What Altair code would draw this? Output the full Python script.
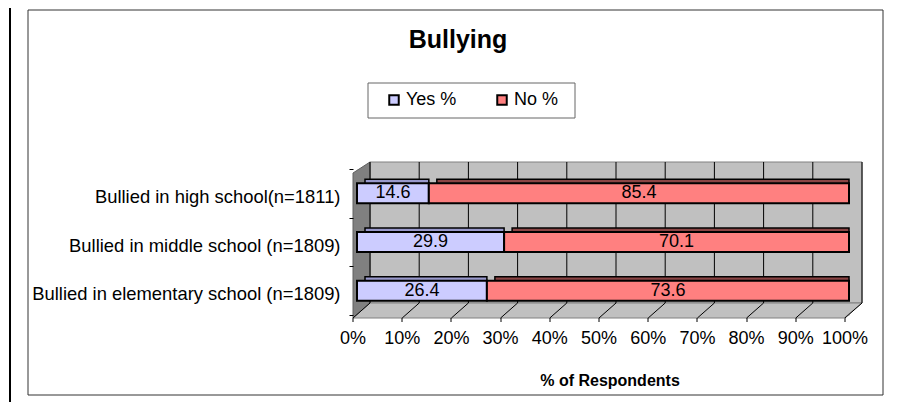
import altair as alt
import pandas as pd

# ---- data ----
categories = [
    "Bullied in high school(n=1811)",
    "Bullied in middle school (n=1809)",
    "Bullied in elementary school (n=1809)",
]
series = ["Yes %", "No %"]
yes_values = [14.6, 29.9, 26.4]
no_values = [85.4, 70.1, 73.6]
x_ticks = [0, 10, 20, 30, 40, 50, 60, 70, 80, 90, 100]

front_colors = ["#CCCCFF", "#FF8080"]
back_colors = ["#9999CC", "#8B4545"]
FONT = "Liberation Sans"

rows = []
for c, y, n in zip(categories, yes_values, no_values):
    rows.append({"category": c, "series": series[0], "order": 0, "value": y, "shade": back_colors[0]})
    rows.append({"category": c, "series": series[1], "order": 1, "value": n, "shade": back_colors[1]})
df = pd.DataFrame(rows)
ticks_df = pd.DataFrame({"tick": x_ticks})
one = pd.DataFrame({"d": [0]})

xscale = alt.Scale(domain=[0, 100], nice=False, zero=True)
yscale = alt.Scale(domain=categories, paddingInner=0, paddingOuter=0)

# ---- decorations (frame, legend box, 3D wall/floor) ----
frame = alt.Chart(one).mark_rect(fillOpacity=0, stroke="#333333", strokeWidth=1).encode(
    x=alt.value(-329), x2=alt.value(526), y=alt.value(-159), y2=alt.value(226)
)
edge = alt.Chart(one).mark_rule(color="black", strokeWidth=2).encode(
    x=alt.value(-347), y=alt.value(-169), y2=alt.value(241)
)
legend_box = alt.Chart(one).mark_rect(fillOpacity=0, stroke="#666666", strokeWidth=1).encode(
    x=alt.value(11), x2=alt.value(218), y=alt.value(-86), y2=alt.value(-51)
)
wall = alt.Chart(one).mark_rect(
    fill="#C0C0C0", stroke="#808080", strokeWidth=1, xOffset=13, x2Offset=13
).encode(
    x=alt.value(0), x2=alt.value(492),
    y=alt.value(-7), y2=alt.value(134)
)
left_wall = alt.Chart(one).mark_point(
    shape="M-4,149L13,134L13,-7L-4,4Z", size=4, filled=True,
    fill="#808080", stroke="#606060", strokeWidth=1, opacity=1
).encode(x=alt.value(0), y=alt.value(0))
floor = alt.Chart(one).mark_point(
    shape="M-4,149L487,149L505,134L13,134Z", size=4, filled=True,
    fill="#C0C0C0", stroke="#808080", strokeWidth=1, opacity=1
).encode(x=alt.value(0), y=alt.value(0))
wall_grid = alt.Chart(ticks_df).mark_rule(color="black", strokeWidth=1, xOffset=13).encode(
    x=alt.X("tick:Q", scale=xscale), y=alt.value(-7), y2=alt.value(134)
)
floor_grid = alt.Chart(ticks_df).mark_rule(
    color="black", strokeWidth=1, xOffset=13, x2Offset=-4
).encode(
    x=alt.X("tick:Q", scale=xscale), x2="tick:Q",
    y=alt.value(134), y2=alt.value(149)
)

# ---- bars ----
base = alt.Chart(df).transform_stack(
    stack="value", groupby=["category"], as_=["v0", "v1"],
    sort=[alt.SortField("order", order="ascending")]
).transform_calculate(mid="(datum.v0 + datum.v1) / 2")

back = base.mark_bar(size=20, xOffset=8, yOffset=-4, stroke="black", strokeWidth=1.5).encode(
    x=alt.X("v0:Q", scale=xscale),
    x2="v1:Q",
    y=alt.Y("category:N", scale=yscale, sort=categories),
    fill=alt.Fill("shade:N", scale=None),
)

front = base.mark_bar(size=20, stroke="black", strokeWidth=2).encode(
    x=alt.X(
        "v0:Q", scale=xscale,
        axis=alt.Axis(
            values=x_ticks, labelExpr="datum.value + '%'", grid=False, domain=False,
            ticks=True, tickSize=4, tickColor="black", offset=7, translate=-4,
            labelFont=FONT, labelFontSize=18, labelColor="black", labelPadding=8,
            labelFlush=False, labelOverlap=False, zindex=2,
            title="% of Respondents", titleFont=FONT, titleFontSize=16,
            titleFontWeight="bold", titleColor="black", titleX=257, titleY=68,
            titleAlign="center", titleBaseline="alphabetic",
        ),
    ),
    x2="v1:Q",
    y=alt.Y(
        "category:N", scale=yscale, sort=categories,
        axis=alt.Axis(
            title=None, domain=False, ticks=True, tickBand="extent", tickSize=4,
            tickColor="black", offset=4, labelFont=FONT, labelFontSize=18.4,
            labelColor="black", labelPadding=9, labelOffset=3, labelLimit=500, zindex=2,
        ),
    ),
    color=alt.Color(
        "series:N", scale=alt.Scale(domain=series, range=front_colors),
        legend=alt.Legend(
            title=None, orient="none", legendX=28, legendY=-78, direction="horizontal",
            symbolType="square", symbolSize=90, symbolStrokeColor="black",
            symbolStrokeWidth=2, symbolOpacity=1, labelFont=FONT, labelFontSize=18,
            labelColor="black", labelOffset=3, columnPadding=36, padding=0, zindex=2,
        ),
    ),
)

labels = base.mark_text(font=FONT, fontSize=18, color="black").encode(
    x=alt.X("mid:Q", scale=xscale),
    y=alt.Y("category:N", scale=yscale, sort=categories),
    text=alt.Text("value:Q", format=".1f"),
)

title = alt.Chart(one).mark_text(
    text="Bullying", font=FONT, fontSize=25, fontWeight="bold", color="black",
    align="center", baseline="alphabetic"
).encode(x=alt.value(101), y=alt.value(-121))

chart = alt.layer(
    frame, edge, legend_box, wall, left_wall, floor, wall_grid, floor_grid,
    back, front, labels, title
).properties(
    width=492, height=146,
    autosize=alt.AutoSizeParams(type="none"),
    padding={"left": 349, "top": 161, "right": 42, "bottom": 87},
).configure_view(stroke=None).configure(background="white")

chart.save("out.html", embed_options={"renderer": "svg", "actions": False})
